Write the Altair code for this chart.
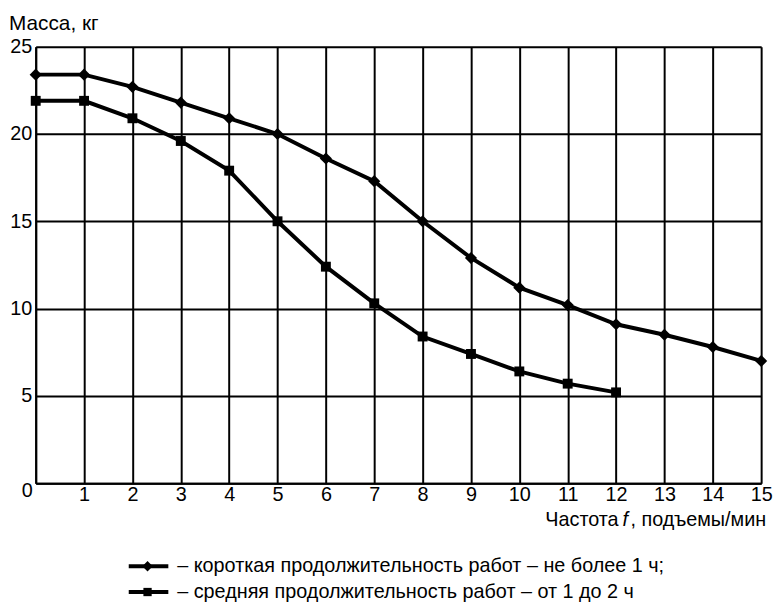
import altair as alt
import pandas as pd

# ---- data ----
freq_short = list(range(16))
mass_short = [23.4, 23.4, 22.7, 21.8, 20.9, 20.0, 18.6, 17.3, 15.0, 12.9, 11.2, 10.2, 9.1, 8.5, 7.8, 7.0]
freq_medium = list(range(13))
mass_medium = [21.9, 21.9, 20.9, 19.6, 17.9, 15.0, 12.4, 10.3, 8.4, 7.4, 6.4, 5.7, 5.2]

series_names = ["short", "medium"]
legend_labels = [
    "– короткая продолжительность работ – не более 1 ч;",
    "– средняя продолжительность работ – от 1 до 2 ч",
]
x_ticks = list(range(16))
y_ticks = [0, 5, 10, 15, 20, 25]
origin_label = "0"

y_title = "Масса, кг"
x_title_parts = ["Частота", "f", ", подъемы/мин"]

FONT = "Liberation Sans"
FS = 20

df_short = pd.DataFrame({"f": freq_short, "m": mass_short, "s": series_names[0]})
df_medium = pd.DataFrame({"f": freq_medium, "m": mass_medium, "s": series_names[1]})

W, H = 733, 441

common_axis = dict(title=None, grid=True, ticks=False, labelFontSize=FS, labelFont=FONT,
                   labelColor="black", gridColor="black", gridWidth=2, gridOpacity=1,
                   domainColor="black", domainWidth=2, labelFlush=False,
                   labelExpr="datum.value == 0 ? '' : datum.label")

xenc = alt.X("f:Q", scale=alt.Scale(domain=[0, 15], nice=False, zero=True),
             axis=alt.Axis(values=x_ticks, labelPadding=2, **common_axis))
yenc = alt.Y("m:Q", scale=alt.Scale(domain=[0, 25], nice=False),
             axis=alt.Axis(values=y_ticks, labelPadding=4, **common_axis))

line_short = alt.Chart(df_short).mark_line(color="black", strokeWidth=4).encode(x=xenc, y=yenc)
pts_short = alt.Chart(df_short).mark_point(shape="diamond", filled=True, color="black",
                                           size=150, opacity=1).encode(x="f:Q", y="m:Q")
line_med = alt.Chart(df_medium).mark_line(color="black", strokeWidth=4).encode(x="f:Q", y="m:Q")
pts_med = alt.Chart(df_medium).mark_point(shape="square", filled=True, color="black",
                                          size=100, opacity=1).encode(x="f:Q", y="m:Q")

one = pd.DataFrame({"k": [0]})

def txt(text, x, y, align="left", style="normal", size=FS, baseline="alphabetic"):
    return alt.Chart(one).mark_text(text=text, align=align, baseline=baseline,
                                    font=FONT, fontSize=size, fontStyle=style,
                                    color="black").encode(x=alt.value(x), y=alt.value(y))

title_y = txt(y_title, -27, -17, size=21)
zero_lbl = txt(origin_label, -3, 455, align="right")
tx1 = txt(x_title_parts[0], 589, 484, align="right")
tx2 = txt(x_title_parts[1], 593, 484, style="italic")
tx3 = txt(x_title_parts[2], 601, 484)

leg_layers = []
leg_y = [525, 551]
shapes = ["diamond", "square"]
sizes = [110, 70]
for i in range(2):
    ly = leg_y[i]
    leg_layers.append(alt.Chart(one).mark_rule(color="black", strokeWidth=4).encode(
        x=alt.value(94), x2=alt.value(134), y=alt.value(ly)))
    leg_layers.append(alt.Chart(one).mark_point(shape=shapes[i], filled=True, color="black",
                                                size=sizes[i], opacity=1).encode(
        x=alt.value(113), y=alt.value(ly)))
    leg_layers.append(txt(legend_labels[i], 143, ly, baseline="middle"))

chart = alt.layer(line_short, line_med, pts_short, pts_med, title_y, zero_lbl, tx1, tx2, tx3,
                  *leg_layers).properties(
    width=W, height=H,
    autosize=alt.AutoSizeParams(type="none"),
    padding={"left": 28, "top": 36, "right": 14, "bottom": 120},
).configure_view(stroke="black", strokeWidth=2).configure(background="white")

chart.save("out.html", embed_options={"renderer": "svg", "actions": False})
